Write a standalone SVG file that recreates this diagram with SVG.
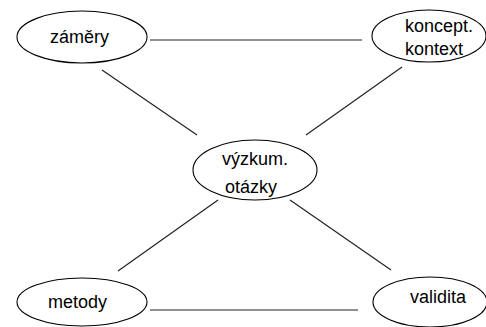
<svg xmlns="http://www.w3.org/2000/svg" width="486" height="327" viewBox="0 0 486 327">
<style>
.n{fill:#fff;stroke:#000;stroke-width:1.1}
.t{font-family:"Liberation Sans",Arial,sans-serif;font-size:18px;fill:#000}
.c line{stroke:#222;stroke-width:1.2}
</style>
<rect width="486" height="327" fill="#fff"/>
<g class="c" id="connectors">
<line x1="150" y1="40" x2="362" y2="40"/>
<line x1="102" y1="70" x2="197" y2="135"/>
<line x1="402" y1="67" x2="306" y2="135"/>
<line x1="218" y1="200" x2="118" y2="271"/>
<line x1="290" y1="200" x2="391" y2="270"/>
<line x1="150" y1="310" x2="358" y2="310"/>
</g>
<g id="zamery"><ellipse class="n" cx="82" cy="37" rx="65" ry="26"/><text class="t" x="50" y="43">záměry</text></g>
<g id="koncept"><ellipse class="n" cx="429" cy="36" rx="57" ry="26"/><text class="t" x="405" y="32">koncept.</text><text class="t" x="405" y="55">kontext</text></g>
<g id="vyzkum"><ellipse class="n" cx="255" cy="170" rx="62" ry="30"/><text class="t" x="222" y="165">výzkum.</text><text class="t" x="225" y="193">otázky</text></g>
<g id="metody"><ellipse class="n" cx="82" cy="302" rx="65" ry="24"/><text class="t" x="48" y="308">metody</text></g>
<g id="validita"><ellipse class="n" cx="430" cy="302" rx="57" ry="25"/><text class="t" x="410" y="303">validita</text></g>
</svg>
